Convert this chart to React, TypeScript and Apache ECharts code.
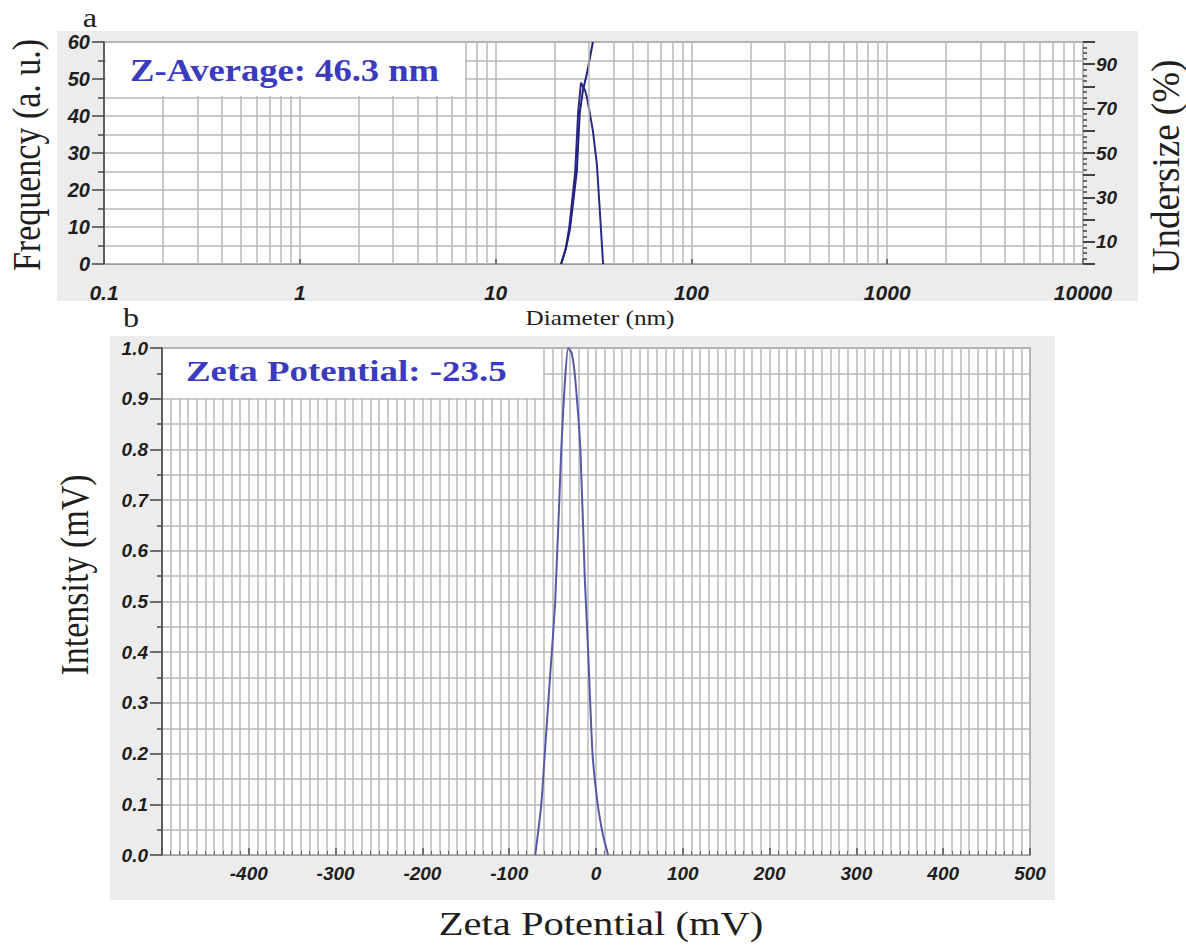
import React, { useEffect, useRef } from "react";
import * as echarts from "echarts";

// Panel a: size distribution (diameter in nm, log axis)
const freqX = [21.6, 22.8, 23.8, 25.5, 26.4, 27.3, 28.6, 29.3, 31.4, 32.9, 34.1, 35.4];
const freqY = [0, 4, 10, 25, 41, 49, 47, 45, 36, 27, 14, 0];
const cumX = [21.6, 23, 24, 26, 26.9, 27.9, 29.3, 31.4];
const cumY = [0, 8, 16, 42, 68, 78, 86, 100];
const rightLabelsA = [10, 30, 50, 70, 90];
const decades = [0.1, 1, 10, 100, 1000];
const multiples = [2, 3, 4, 5, 6, 7, 8, 9];

// Panel b: zeta potential distribution
const zetaX = [-70, -63, -59, -53, -47, -40, -36, -32, -28, -24, -18, -13, -9, -4, 2, 8, 14];
const zetaY = [0, 0.1, 0.2, 0.35, 0.5, 0.8, 0.93, 1.0, 0.99, 0.94, 0.8, 0.55, 0.4, 0.2, 0.1, 0.04, 0];

const zAverageText = "Z-Average: 46.3 nm";
const zetaText = "Zeta Potential: -23.5";

const SANS = "Liberation Sans, Arial, sans-serif";
const SERIF = "Liberation Serif, Times New Roman, serif";
const GRID = "#b8b8b8";
const AX = "#444";

export default function App() {
  const ref = useRef<HTMLDivElement>(null);
  useEffect(() => {
    if (!ref.current) return;
    const chart = echarts.init(ref.current, undefined, { renderer: "svg" });
    const minorLines: { xAxis: number }[] = [];
    decades.forEach((d) => multiples.forEach((m) => minorLines.push({ xAxis: +(d * m).toPrecision(3) })));

    const tickLabel = { fontFamily: SANS, fontWeight: "bold", fontStyle: "italic", color: "#1e1e1e" };
    const title = (x: number, y: number, text: string, size: number, rotated: boolean, stretch: number) => ({
      type: "text",
      x,
      y,
      rotation: rotated ? Math.PI / 2 : 0,
      scaleX: rotated ? 1 : stretch,
      scaleY: rotated ? stretch : 1,
      style: { text, fontFamily: SERIF, fontSize: size, fill: "#1e1e1e", textAlign: "center", textVerticalAlign: "middle" },
    });

    chart.setOption({
      animation: false,
      backgroundColor: "#fff",
      grid: [
        { left: 104, top: 42, width: 979, height: 222, show: true, backgroundColor: "#fff", borderColor: "#8a8a8a", borderWidth: 1.5 },
        { left: 162, top: 348, width: 868, height: 507, show: true, backgroundColor: "#fff", borderColor: "#8a8a8a", borderWidth: 1.5 },
      ],
      xAxis: [
        {
          type: "log",
          gridIndex: 0,
          logBase: 10,
          min: 0.1,
          max: 10000,
          axisLine: { show: true, onZero: false, lineStyle: { color: "#9a9a9a", width: 1, type: "dotted" } },
          axisTick: { show: true, inside: true, length: 5, lineStyle: { color: "#555", width: 1.5 } },
          axisLabel: { ...tickLabel, fontSize: 21, margin: 18, formatter: (v: number) => String(v) },
          splitLine: { show: true, lineStyle: { color: GRID, width: 1.5 } },
        },
        {
          type: "value",
          gridIndex: 1,
          min: -500,
          max: 500,
          interval: 100,
          axisLine: { show: true, onZero: false, lineStyle: { color: "#9a9a9a", width: 1 } },
          axisTick: { show: true, inside: true, length: 7, lineStyle: { color: "#555", width: 1.5 } },
          minorTick: { show: true, splitNumber: 10, length: 4, lineStyle: { color: "#666" } },
          axisLabel: { ...tickLabel, fontSize: 19, margin: 9, showMinLabel: false },
          splitLine: { show: true, lineStyle: { color: GRID, width: 1.5 } },
          minorSplitLine: { show: true, lineStyle: { color: GRID, width: 1.5 } },
        },
      ],
      yAxis: [
        {
          type: "value",
          gridIndex: 0,
          min: 0,
          max: 60,
          interval: 10,
          axisLine: { show: true, onZero: false, lineStyle: { color: AX, width: 1.5 } },
          axisTick: { show: true, length: 12, lineStyle: { color: AX, width: 1.5 } },
          minorTick: { show: true, splitNumber: 2, length: 6, lineStyle: { color: AX, width: 1.5 } },
          axisLabel: { ...tickLabel, fontSize: 20, margin: 14 },
          splitLine: { show: true, lineStyle: { color: GRID, width: 1.5 } },
          minorSplitLine: { show: true, lineStyle: { color: GRID, width: 1.5 } },
        },
        {
          type: "value",
          gridIndex: 0,
          position: "right",
          min: 0,
          max: 100,
          interval: 10,
          axisLine: { show: false, onZero: false },
          axisTick: { show: true, length: 12, lineStyle: { color: AX, width: 2 } },
          minorTick: { show: true, splitNumber: 4, length: 4, lineStyle: { color: AX, width: 1.5 } },
          axisLabel: { ...tickLabel, fontSize: 19, margin: 13, customValues: rightLabelsA },
          splitLine: { show: false },
        },
        {
          type: "value",
          gridIndex: 1,
          min: 0,
          max: 1,
          interval: 0.1,
          axisLine: { show: true, onZero: false, lineStyle: { color: AX, width: 1.5 } },
          axisTick: { show: true, length: 12, lineStyle: { color: AX, width: 1.5 } },
          minorTick: { show: true, splitNumber: 2, length: 5, lineStyle: { color: AX, width: 1.5 } },
          axisLabel: { ...tickLabel, fontSize: 19, margin: 14, formatter: (v: number) => v.toFixed(1) },
          splitLine: { show: true, lineStyle: { color: GRID, width: 1.5 } },
          minorSplitLine: { show: true, lineStyle: { color: GRID, width: 1.5 } },
        },
      ],
      series: [
        {
          type: "line",
          name: "Frequency",
          xAxisIndex: 0,
          yAxisIndex: 0,
          data: freqX.map((x, i) => [x, freqY[i]]),
          showSymbol: false,
          lineStyle: { color: "#2a2a86", width: 2 },
          markLine: {
            silent: true,
            symbol: "none",
            label: { show: false },
            lineStyle: { color: GRID, width: 1.5, type: "solid" },
            data: minorLines,
          },
        },
        {
          type: "line",
          name: "Undersize",
          xAxisIndex: 0,
          yAxisIndex: 1,
          data: cumX.map((x, i) => [x, cumY[i]]),
          showSymbol: false,
          lineStyle: { color: "#22227e", width: 2 },
        },
        {
          type: "line",
          name: "Zeta",
          xAxisIndex: 1,
          yAxisIndex: 2,
          data: zetaX.map((x, i) => [x, zetaY[i]]),
          showSymbol: false,
          smooth: 0.2,
          lineStyle: { color: "#5858a6", width: 2 },
        },
      ],
      graphic: [
        { type: "rect", z: -10, shape: { x: 57, y: 31, width: 1081, height: 270 }, style: { fill: "#ececec" } },
        { type: "rect", z: -10, shape: { x: 110, y: 336, width: 945, height: 564 }, style: { fill: "#ececec" } },
        { type: "rect", z: 50, shape: { x: 106, y: 43, width: 359, height: 53 }, style: { fill: "#fff" } },
        { type: "text", z: 51, x: 130, y: 70, scaleX: 1.18, style: { text: zAverageText, fontFamily: SERIF, fontWeight: "bold", fontSize: 31, fill: "#3b3bbf", textVerticalAlign: "middle" } },
        { type: "rect", z: 50, shape: { x: 163, y: 349, width: 380, height: 49 }, style: { fill: "#fff" } },
        { type: "text", z: 51, x: 186, y: 371, scaleX: 1.23, style: { text: zetaText, fontFamily: SERIF, fontWeight: "bold", fontSize: 30, fill: "#3b3bbf", textVerticalAlign: "middle" } },
        title(90, 18, "a", 28, false, 1.15),
        title(131, 318, "b", 28, false, 1.15),
        title(27, 155, "Frequency (a. u.)", 34, true, 1.15),
        title(1165, 167, "Undersize (%)", 37, true, 1.1),
        title(600, 318, "Diameter (nm)", 21, false, 1.2),
        title(75, 575, "Intensity (mV)", 34, true, 1.15),
        title(601, 924, "Zeta Potential (mV)", 33, false, 1.23),
      ],
    });
    return () => chart.dispose();
  }, []);
  return <div ref={ref} style={{ position: "fixed", left: 0, top: 0, width: 1186, height: 946 }} />;
}
